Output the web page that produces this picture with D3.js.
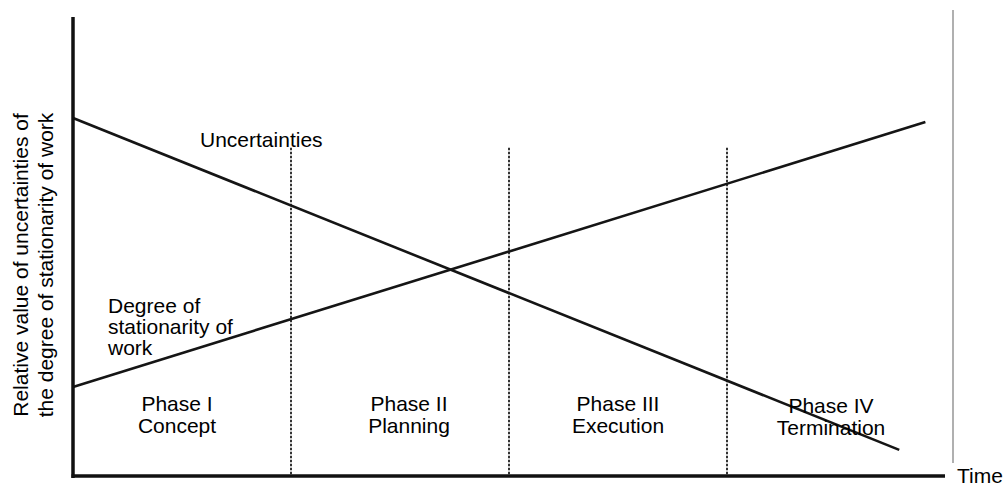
<!DOCTYPE html>
<html>
<head>
<meta charset="utf-8">
<script src="https://cdn.jsdelivr.net/npm/d3@7"></script>
<style>
  body { margin: 0; background: #fff; }
  svg { display: block; font-family: "Liberation Sans", Arial, sans-serif; }
</style>
</head>
<body>
<div id="chart"></div>
<script>
// time runs over four phases (0..4), values are relative (0..100)
const phases = ["Phase I", "Phase II", "Phase III", "Phase IV"];
const phaseNames = ["Concept", "Planning", "Execution", "Termination"];
const phaseBounds = [1, 2, 3];
const boundTop = 71.5;

const uncertainties = [[0, 78.0], [3.79, 5.7]];
const stationarity = [[0, 19.4], [3.91, 77.1]];

const width = 1005, height = 486;

const svg = d3.select("#chart").append("svg")
    .attr("width", width)
    .attr("height", height);

const x = d3.scaleLinear().domain([0, 4]).range([73, 945]);
const y = d3.scaleLinear().domain([0, 100]).range([476, 17]);

// right frame line
svg.append("line")
    .attr("x1", 953).attr("x2", 953)
    .attr("y1", 10).attr("y2", 463)
    .attr("stroke", "#b0b0b0")
    .attr("stroke-width", 2);

// phase boundaries
svg.selectAll(".bound")
  .data(phaseBounds)
  .join("line")
    .attr("class", "bound")
    .attr("x1", d => x(d)).attr("x2", d => x(d))
    .attr("y1", y(boundTop)).attr("y2", y(0))
    .attr("stroke", "#333")
    .attr("stroke-width", 2)
    .attr("stroke-dasharray", "2.5,1.5");

const line = d3.line()
    .x(d => x(d[0]))
    .y(d => y(d[1]));

svg.selectAll(".series")
  .data([uncertainties, stationarity])
  .join("path")
    .attr("class", "series")
    .attr("d", line)
    .attr("fill", "none")
    .attr("stroke", "#151515")
    .attr("stroke-width", 2.6);

// axes (no ticks)
svg.append("line")
    .attr("x1", x(0)).attr("x2", x(0))
    .attr("y1", y(100)).attr("y2", y(0) + 2)
    .attr("stroke", "#111")
    .attr("stroke-width", 3.5);

svg.append("line")
    .attr("x1", x(0) - 1.5).attr("x2", x(4))
    .attr("y1", y(0)).attr("y2", y(0))
    .attr("stroke", "#111")
    .attr("stroke-width", 3.5);

svg.append("text")
    .attr("x", 957).attr("y", 483)
    .attr("font-size", 21)
    .text("Time");

// y axis title
const yTitle = svg.append("text")
    .attr("transform", "translate(0,265) rotate(-90)")
    .attr("text-anchor", "middle")
    .attr("font-size", 21);
yTitle.append("tspan").attr("x", 0).attr("y", 28).text("Relative value of uncertainties of");
yTitle.append("tspan").attr("x", 0).attr("y", 53).text("the degree of stationarity of work");

// series labels
svg.append("text")
    .attr("x", 200).attr("y", 147)
    .attr("font-size", 21)
    .text("Uncertainties");

const deg = svg.append("text").attr("font-size", 21);
["Degree of", "stationarity of", "work"].forEach((t, i) => {
  deg.append("tspan").attr("x", 108).attr("y", 313 + i * 21).text(t);
});

// phase labels
const nudge = [-5, 9, 0, -5];
const nudgeY = [0, 0, 0, 2];
svg.selectAll(".phase")
  .data(phases)
  .join("text")
    .attr("class", "phase")
    .attr("text-anchor", "middle")
    .attr("font-size", 21)
    .each(function (d, i) {
      const cx = x(i + 0.5) + nudge[i];
      const t = d3.select(this);
      t.append("tspan").attr("x", cx).attr("y", 411 + nudgeY[i]).text(d);
      t.append("tspan").attr("x", cx).attr("y", 433 + nudgeY[i]).text(phaseNames[i]);
    });
</script>
</body>
</html>
